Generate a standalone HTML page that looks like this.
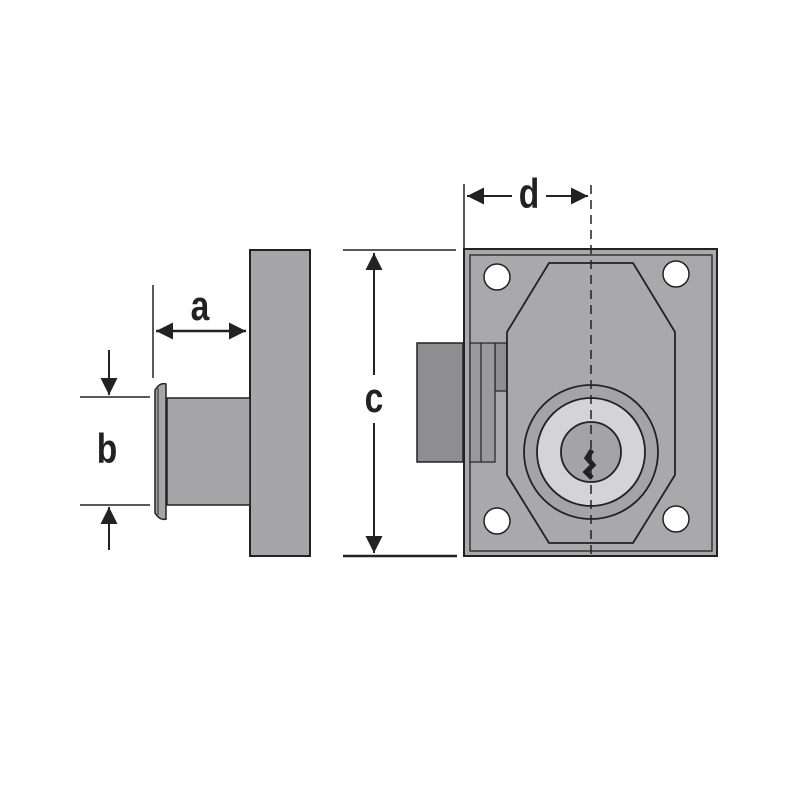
<!DOCTYPE html>
<html><head><style>html,body{margin:0;padding:0;background:#fff}svg{display:block}</style></head>
<body>
<svg width="800" height="800" viewBox="0 0 800 800" xmlns="http://www.w3.org/2000/svg">
<defs>
<marker id="ah" viewBox="0 0 10 10" refX="10" refY="5" markerWidth="22" markerHeight="17" markerUnits="userSpaceOnUse" orient="auto-start-reverse"><path d="M0,0 L10,5 L0,10 z" fill="#222"/></marker>
</defs>
<g stroke="#222" fill="none">
<!-- left view -->
<rect x="250" y="250" width="60" height="306" fill="#a6a6a8" stroke-width="2"/>
<rect x="167" y="398" width="83" height="107" fill="#a6a6a8" stroke-width="1.5"/>
<path d="M155,390 Q160,382 166,384 L166,519 Q160,521 155,513 Z" fill="#a6a6a8" stroke-width="1.5"/>
<line x1="158" y1="388" x2="158" y2="515" stroke-width="1"/>
<line x1="153" y1="285" x2="153" y2="378" stroke-width="1.5"/>
<line x1="80" y1="397" x2="150" y2="397" stroke-width="1.5"/>
<line x1="80" y1="505" x2="150" y2="505" stroke-width="1.5"/>
<line x1="156" y1="331" x2="246" y2="331" stroke-width="2.5" marker-start="url(#ah)" marker-end="url(#ah)"/>
<line x1="109" y1="350" x2="109" y2="395" stroke-width="2" marker-end="url(#ah)"/>
<line x1="109" y1="550" x2="109" y2="507" stroke-width="2" marker-end="url(#ah)"/>
<!-- c -->
<line x1="343" y1="250" x2="456" y2="250" stroke-width="1.5"/>
<line x1="343" y1="556" x2="457" y2="556" stroke-width="2.5"/>
<line x1="374" y1="253" x2="374" y2="375" stroke-width="2" marker-start="url(#ah)"/>
<line x1="374" y1="423" x2="374" y2="553" stroke-width="2" marker-end="url(#ah)"/>
<!-- d -->
<line x1="464" y1="184" x2="464" y2="249" stroke-width="1.5"/>
<line x1="467" y1="196" x2="512" y2="196" stroke-width="2" marker-start="url(#ah)"/>
<line x1="546" y1="196" x2="588" y2="196" stroke-width="2" marker-end="url(#ah)"/>
<!-- bolt -->
<rect x="417" y="343" width="46" height="119" fill="#8e8e90" stroke-width="1.5"/>
<!-- plate -->
<rect x="464" y="249" width="253" height="307" fill="#a9a9ab" stroke-width="2"/>
<rect x="470" y="255" width="242" height="296" fill="#a9a9ab" stroke-width="1.3"/>
<rect x="495" y="343" width="12" height="48" fill="#8e8e90" stroke-width="1.2"/>
<rect x="470" y="343" width="25" height="119" fill="#9a9a9c" stroke-width="1.2"/>
<line x1="481" y1="343" x2="481" y2="462" stroke-width="1.2"/>
<polygon points="549,263 633,263 675,332 675,475 633,543 549,543 507,475 507,332" fill="#a9a9ab" stroke-width="1.8"/>
<circle cx="497" cy="277" r="13" fill="#fff" stroke-width="1.5"/>
<circle cx="676" cy="274" r="13" fill="#fff" stroke-width="1.5"/>
<circle cx="497" cy="521" r="13" fill="#fff" stroke-width="1.5"/>
<circle cx="676" cy="519" r="13" fill="#fff" stroke-width="1.5"/>
<circle cx="591" cy="452" r="67" fill="#a4a4a6" stroke-width="1.8"/>
<circle cx="591" cy="452" r="54" fill="#d4d4d6" stroke-width="1.8"/>
<circle cx="591" cy="452" r="30" fill="#a4a4a6" stroke-width="1.8"/>
<path d="M592,450 L587,458 L593,465 L586,472 L592,478" stroke-width="5"/>
<line x1="591" y1="185" x2="591" y2="556" stroke-width="1.5" stroke-dasharray="9,6"/>
</g>
<g font-family="Liberation Sans, sans-serif" font-weight="bold" fill="#222" font-size="42" text-anchor="middle">
<text x="200" y="320" transform="translate(200 0) scale(0.8 1) translate(-200 0)">a</text>
<text x="107" y="463" transform="translate(107 0) scale(0.8 1) translate(-107 0)">b</text>
<text x="374" y="412" transform="translate(374 0) scale(0.8 1) translate(-374 0)">c</text>
<text x="529" y="208" transform="translate(529 0) scale(0.8 1) translate(-529 0)">d</text>
</g>
</svg>
</body></html>
